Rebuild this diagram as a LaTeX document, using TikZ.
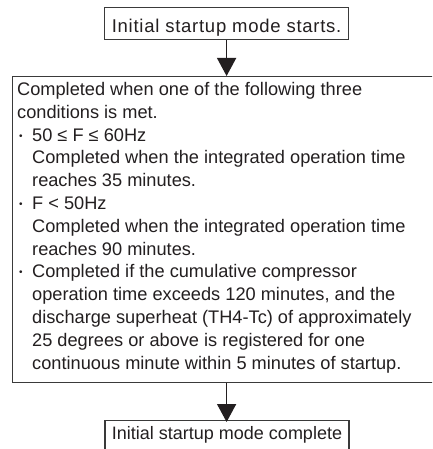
\documentclass[tikz,border=0pt]{standalone}
\usepackage{fontspec}
\setmainfont{Liberation Sans}
\usetikzlibrary{arrows.meta}
\definecolor{ink}{HTML}{231F20}
\definecolor{edge}{HTML}{3A3A3A}
\begin{document}
\begin{tikzpicture}[x=1pt,y=-1pt,
  box/.style={draw=edge, line width=1.2pt, rectangle, inner sep=0pt, text=ink},
  txt/.style={anchor=base west, inner sep=0pt, text=ink, font=\fontsize{18.2}{22}\selectfont},
  dot/.style={anchor=base west, inner sep=0pt, text=ink, font=\fontsize{10}{12}\selectfont},
  arr/.style={draw=ink, line width=1.6pt, -{Triangle[width=19pt,length=18pt]}}]
\clip (0,0) rectangle (432,449);
\fill[white] (0,0) rectangle (432,449);
% top box
\node[box, anchor=north west, minimum width=244pt, minimum height=32pt,
  text height=20pt, text depth=2pt, font=\fontsize{18.5}{22}\selectfont] (start) at (104,7)
  {\addfontfeatures{LetterSpace=4}Initial startup mode starts.};
% main box
\node[box, anchor=north west, minimum width=440pt, minimum height=306pt] (cond) at (12,76) {};
\foreach \i/\x/\t in {
  1/17/{Completed when one of the following three},
  2/17/{conditions is met.},
  3/32/{50 ≤ F ≤ 60Hz},
  4/32/{Completed when the integrated operation time},
  5/32/{reaches 35 minutes.},
  6/32/{F < 50Hz},
  7/32/{Completed when the integrated operation time},
  8/32/{reaches 90 minutes.},
  9/32/{Completed if the cumulative compressor},
  10/32/{operation time exceeds 120 minutes, and the},
  11/32/{discharge superheat (TH4-Tc) of approximately},
  12/32/{25 degrees or above is registered for one},
  13/32/{continuous minute within 5 minutes of startup.}}
  \node[txt] (l\i) at (\x, {95.5+22.8*(\i-1)}) {\t};
\foreach \i in {3,6,9}
  \node[dot] (b\i) at (19, {93.5+22.8*(\i-1)}) {•};
% bottom box
\node[box, anchor=north, minimum width=244pt, minimum height=40pt,
  text height=16pt, text depth=18pt, font=\fontsize{18}{22}\selectfont] (done) at (227,420)
  {Initial startup mode complete};
% arrows
\draw[arr] (start.south) -- (start.south |- cond.north);
\draw[arr] (start.south |- cond.south) -- ([yshift=-2pt]start.south |- done.north);
\end{tikzpicture}
\end{document}
